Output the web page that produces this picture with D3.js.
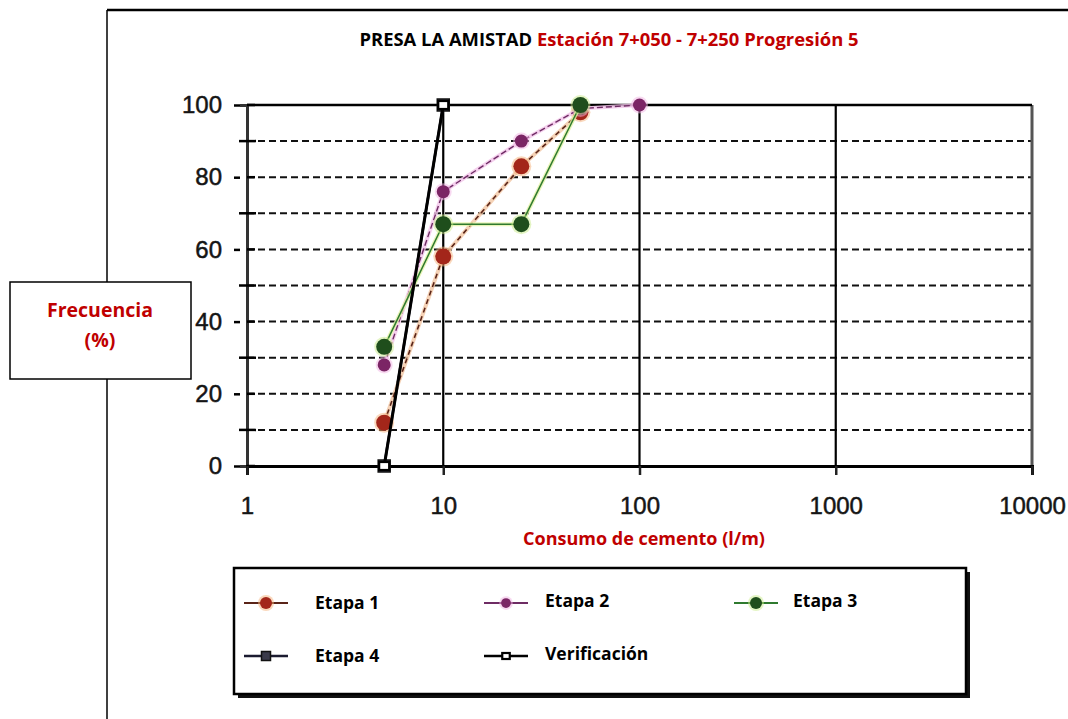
<!DOCTYPE html>
<html>
<head>
<meta charset="utf-8">
<script src="https://cdn.jsdelivr.net/npm/d3@7"></script>
<style>
  html, body { margin: 0; padding: 0; background: #fff; }
  svg { display: block; }
  .lbl { font-family: "Open Sans", "DejaVu Sans", sans-serif; font-weight: 700; }
  .tick text { font-family: "Liberation Sans", Arial, sans-serif; font-size: 24px; fill: #151515; stroke: #151515; stroke-width: 0.5px; }
</style>
</head>
<body>
<svg id="chart" width="1068" height="719"></svg>
<script>
// ---- data ----
const xTicks = [1, 10, 100, 1000, 10000];
const yMajor = [0, 20, 40, 60, 80, 100];
const yMinor = [10, 30, 50, 70, 90];
const seriesNames = ["Etapa 1", "Etapa 2", "Etapa 3", "Etapa 4", "Verificación"];
const etapa1X = [5, 10, 25, 50];
const etapa1Y = [12, 58, 83, 98];
const etapa2X = [5, 10, 25, 50, 100];
const etapa2Y = [28, 76, 90, 99, 100];
const etapa3X = [5, 10, 25, 50];
const etapa3Y = [33, 67, 67, 100];
const etapa4X = [5, 10];
const etapa4Y = [0, 100];
const verifX = [5, 10];
const verifY = [0, 100];
const titleBlack = "PRESA LA AMISTAD";
const titleRed = "Estación 7+050 - 7+250 Progresión 5";
const xLabel = "Consumo de cemento (l/m)";
const yLabel = ["Frecuencia", "(%)"];

const svg = d3.select("#chart");

// frame
svg.append("line").attr("x1", 107).attr("x2", 1068).attr("y1", 10).attr("y2", 10)
  .attr("stroke", "#000").attr("stroke-width", 2.5);
svg.append("line").attr("x1", 107).attr("x2", 107).attr("y1", 10).attr("y2", 719)
  .attr("stroke", "#000").attr("stroke-width", 1.5);

// title
const t = svg.append("text").attr("class", "lbl").attr("x", 609).attr("y", 46)
  .attr("text-anchor", "middle").attr("font-size", 18.4);
t.append("tspan").attr("fill", "#000").text(titleBlack + "  ");
t.append("tspan").attr("fill", "#c00000").text(titleRed);

// scales
const x = d3.scaleLog().domain([1, 10000]).range([247, 1032]);
const y = d3.scaleLinear().domain([0, 100]).range([466, 105]);

const plot = svg.append("g");

// dashed gridlines
plot.selectAll(".hgrid").data(d3.range(10, 100, 10)).join("line")
  .attr("x1", x(1)).attr("x2", x(10000))
  .attr("y1", d => y(d)).attr("y2", d => y(d))
  .attr("stroke", "#111").attr("stroke-width", 2).attr("stroke-dasharray", "7,4");

// vertical decade lines
plot.selectAll(".vgrid").data(xTicks.slice(1, 4)).join("line")
  .attr("x1", d => x(d)).attr("x2", d => x(d))
  .attr("y1", y(100)).attr("y2", y(0))
  .attr("stroke", "#000").attr("stroke-width", 2.2);
// right border
plot.append("line").attr("x1", x(10000)).attr("x2", x(10000)).attr("y1", y(100)).attr("y2", y(0))
  .attr("stroke", "#555").attr("stroke-width", 3);
// top border
plot.append("line").attr("x1", x(1)).attr("x2", x(10000)).attr("y1", y(100)).attr("y2", y(100))
  .attr("stroke", "#000").attr("stroke-width", 2.5);

// y axis
const yAxis = plot.append("g").attr("transform", `translate(${x(1)},0)`)
  .call(d3.axisLeft(y).tickValues(yMajor).tickSize(7).tickPadding(18).tickFormat(d3.format("d")));
yAxis.select(".domain").attr("stroke", "#333").attr("stroke-width", 3);
yAxis.selectAll(".tick line").attr("x1", -7).attr("x2", -13).attr("stroke", "#000").attr("stroke-width", 2.5);
plot.selectAll(".minor").data(yMinor).join("line")
  .attr("x1", x(1) - 8).attr("x2", x(1) + 9)
  .attr("y1", d => y(d)).attr("y2", d => y(d))
  .attr("stroke", "#000").attr("stroke-width", 2.5);
plot.selectAll(".stub").data(yMajor).join("line")
  .attr("x1", x(1)).attr("x2", x(1) + 8)
  .attr("y1", d => y(d)).attr("y2", d => y(d))
  .attr("stroke", "#000").attr("stroke-width", 2.5);

// x axis
const xAxis = plot.append("g").attr("transform", `translate(0,${y(0)})`)
  .call(d3.axisBottom(x).tickValues(xTicks).tickSize(9).tickPadding(22).tickFormat(d3.format("d")));
xAxis.select(".domain").attr("stroke", "#000").attr("stroke-width", 3);
xAxis.selectAll(".tick line").attr("stroke", "#222").attr("stroke-width", 2.5);

// series
const series = [
  { name: seriesNames[0], xs: etapa1X, ys: etapa1Y, color: "#5a2418", halo: "#f3c7a4", dash: "5,4", w: 1.6,
    marker: "circle", mfill: "#a3261a", mglow: "#f6b27a", r: 8 },
  { name: seriesNames[1], xs: etapa2X, ys: etapa2Y, color: "#6e2c64", halo: "#f2c4ea", dash: "6,3", w: 1.4,
    marker: "circle", mfill: "#7b2565", mglow: "#f1b3e3", r: 6.5 },
  { name: seriesNames[2], xs: etapa3X, ys: etapa3Y, color: "#2f7a2f", halo: "#e3f3a6", dash: null, w: 1.5,
    marker: "circle", mfill: "#1f4e1c", mglow: "#c9ec8a", r: 8 },
  { name: seriesNames[3], xs: etapa4X, ys: etapa4Y, color: "#1b1b30", halo: null, dash: null, w: 2.5,
    marker: "square", mfill: "#3a3a4a", mglow: null, r: 6 },
  { name: seriesNames[4], xs: verifX, ys: verifY, color: "#000", halo: null, dash: null, w: 3,
    marker: "open", mfill: "#fff", mglow: null, r: 5 }
];

const line = d3.line().x(d => x(d[0])).y(d => y(d[1]));

function drawMarker(g, cx, cy, s, scale) {
  const r = s.r * (scale || 1);
  if (s.mglow) {
    g.append("circle").attr("cx", cx).attr("cy", cy).attr("r", r + 2)
      .attr("fill", s.mglow).attr("opacity", 0.5);
  }
  if (s.marker === "circle") {
    g.append("circle").attr("cx", cx).attr("cy", cy).attr("r", r).attr("fill", s.mfill);
  } else if (s.marker === "square") {
    g.append("rect").attr("x", cx - r).attr("y", cy - r).attr("width", 2 * r).attr("height", 2 * r)
      .attr("fill", s.mfill).attr("stroke", "#111").attr("stroke-width", 1.5);
  } else {
    g.append("rect").attr("x", cx - r).attr("y", cy - r * 0.8).attr("width", 2 * r).attr("height", 1.6 * r)
      .attr("fill", "#fff").attr("stroke", "#000").attr("stroke-width", 2.2);
  }
}

const order = [3, 0, 1, 2, 4];
order.forEach(i => {
  const s = series[i];
  const pts = s.xs.map((v, k) => [v, s.ys[k]]);
  const g = plot.append("g");
  if (s.halo) {
    g.append("path").attr("d", line(pts)).attr("fill", "none")
      .attr("stroke", s.halo).attr("stroke-width", 4).attr("opacity", 0.8);
  }
  g.append("path").attr("d", line(pts)).attr("fill", "none")
    .attr("stroke", s.color).attr("stroke-width", s.w)
    .attr("stroke-dasharray", s.dash);
  pts.forEach(p => drawMarker(g, x(p[0]), y(p[1]), s));
});

// x label
svg.append("text").attr("class", "lbl").attr("x", 644).attr("y", 545)
  .attr("text-anchor", "middle").attr("font-size", 18).attr("fill", "#c00000").text(xLabel);

// y label box
svg.append("rect").attr("x", 10).attr("y", 282).attr("width", 181).attr("height", 97)
  .attr("fill", "#fff").attr("stroke", "#000").attr("stroke-width", 1.5);
svg.append("text").attr("class", "lbl").attr("x", 100).attr("y", 317)
  .attr("text-anchor", "middle").attr("font-size", 19.5).attr("fill", "#c00000").text(yLabel[0]);
svg.append("text").attr("class", "lbl").attr("x", 100).attr("y", 347)
  .attr("text-anchor", "middle").attr("font-size", 19.5).attr("fill", "#c00000").text(yLabel[1]);

// legend
const lg = svg.append("g");
lg.append("rect").attr("x", 238).attr("y", 572).attr("width", 732).attr("height", 126).attr("fill", "#111");
lg.append("rect").attr("x", 234).attr("y", 568).attr("width", 732).attr("height", 126)
  .attr("fill", "#fff").attr("stroke", "#000").attr("stroke-width", 2.5);
const symX = [244, 484, 734];
const txtX = [315, 545, 793];
const rowY = [603, 656];
series.forEach((s, i) => {
  const col = i % 3, row = Math.floor(i / 3);
  const sx = symX[col], sy = rowY[row];
  const g = lg.append("g");
  g.append("line").attr("x1", sx).attr("x2", sx + 44).attr("y1", sy).attr("y2", sy)
    .attr("stroke", s.color).attr("stroke-width", s.marker === "circle" ? 2 : 2.5);
  drawMarker(g, sx + 22, sy, s, 0.75);
  g.append("text").attr("class", "lbl").attr("x", txtX[col]).attr("y", sy + 6 - (col > 0 ? 2 : 0))
    .attr("font-size", 17.5).attr("fill", "#000").text(s.name);
});
</script>
</body>
</html>
